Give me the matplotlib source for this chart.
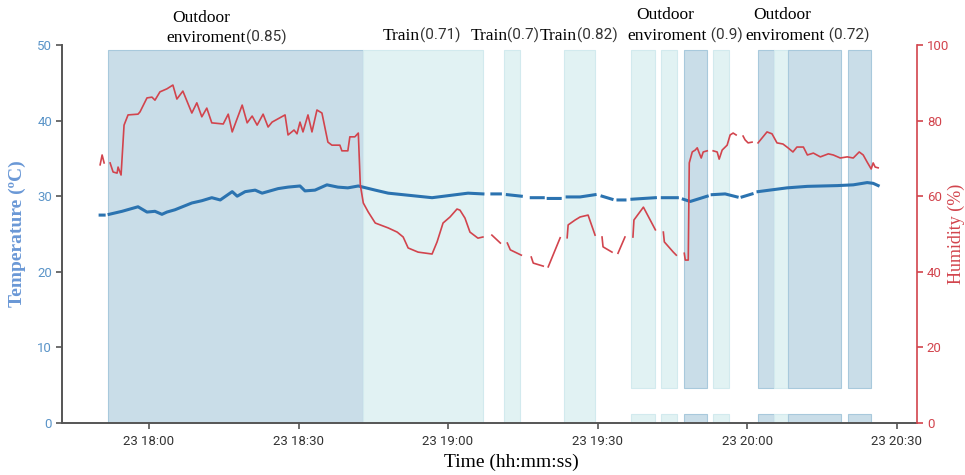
import numpy as np
import pandas as pd
import matplotlib
matplotlib.use("Agg")
import matplotlib.pyplot as plt
import matplotlib.dates as mdates
from matplotlib.transforms import blended_transform_factory

# minutes after 23 18:00, nan = missing reading
nan = np.nan
temp_min = [-9.8, -9.0, nan,
            -8.0, -5.4, -2.2, -0.4, 1.2, 2.6, 3.6, 5.2, 8.6, 10.6, 12.6, 14.3, 16.7, 17.7,
            19.3, 21.3, 22.7, 25.9, 27.9, 30.3, 31.3, 33.3, 35.7, 37.9, 39.9, 42.0, 45.4,
            48.0, 56.8, 64.0, 67.0, nan,
            68.8, 70.5, nan, 71.9, 74.7, nan, 76.7, 79.1, nan, 80.1, 82.5, nan,
            83.9, 86.5, 89.5, nan, 90.9, 92.9, nan, 94.1, 95.5, nan, 96.9, 101.6, nan,
            103.0, 106.0, nan, 107.2, 108.6, 112.0, nan, 113.0, 115.6, 118.0, nan,
            119.0, 121.0, nan, 122.2, 128.0, 132.1, 138.1, 141.3, 144.1, 145.3, 146.3]
temp_val = [27.5, 27.5, nan,
            27.6, 28.0, 28.6, 27.9, 28.0, 27.6, 27.9, 28.2, 29.1, 29.4, 29.8, 29.5, 30.6, 30.0,
            30.6, 30.8, 30.4, 31.0, 31.2, 31.35, 30.7, 30.8, 31.5, 31.2, 31.1, 31.35, 30.8,
            30.4, 29.8, 30.4, 30.3, nan,
            30.3, 30.3, nan, 30.2, 30.0, nan, 29.8, 29.8, nan, 29.7, 29.7, nan,
            29.9, 29.9, 30.2, nan, 30.0, 29.6, nan, 29.5, 29.5, nan, 29.6, 29.8, nan,
            29.8, 29.8, nan, 29.6, 29.3, 30.0, nan, 30.2, 30.3, 29.9, nan,
            29.9, 30.3, nan, 30.6, 31.1, 31.3, 31.4, 31.5, 31.8, 31.7, 31.4]

hum_min = [-9.8, -9.4, -9.0, nan,
           -7.8, -7.2, -6.4, -6.2, -5.6, -5.0, -4.2, -2.2, -1.8, -0.4, 0.6, 1.2, 2.2, 3.6,
           4.8, 5.6, 6.8, 8.6, 9.6, 10.6, 11.6, 12.6, 14.9, 15.9, 16.7, 18.7, 19.7, 20.7,
           21.7, 22.9, 23.9, 24.7, 27.3, 27.9, 29.1, 29.7, 30.3, 30.9, 31.9, 32.7, 33.7,
           34.7, 35.9, 36.7, 38.3, 38.7, 39.9, 40.3, 41.3, 42.0, 42.4, 43.0, 44.0, 45.4,
           48.0, 49.8, 51.0, 52.0, 54.0, 56.8, 57.8, 59.0, 60.4, 61.8, 62.4, 63.4, 64.4,
           66.0, 67.0, nan,
           68.8, 70.5, nan, 71.9, 72.5, 74.7, nan, 76.7, 77.1, 79.1, nan, 80.1, 82.5, nan,
           83.9, 84.1, 85.5, 86.5, 88.1, 89.5, nan, 90.9, 91.1, 92.9, nan, 94.1, 95.5, nan,
           97.1, 97.3, 99.2, 101.6, nan, 103.2, 103.4, 105.2, 105.8, nan,
           107.4, 107.6, 108.2, 108.4, 109.0, 109.6, 110.0, 110.4, 110.8, 111.2, 112.0, nan,
           113.2, 114.0, 114.4, 115.0, 116.0, 116.6, 117.2, 117.8, nan,
           119.2, 119.6, 120.2, 121.0, nan,
           122.2, 124.0, 125.0, 126.0, 127.2, 128.2, 129.2, 130.0, 131.3, 132.1, 133.3,
           134.7, 136.3, 137.3, 138.7, 140.1, 141.3, 142.5, 143.3, 144.1, 144.9, 145.3,
           145.7, 146.3]
hum_val = [68.3, 70.9, 68.8, nan,
           68.8, 66.4, 66.1, 67.7, 65.6, 78.8, 81.5, 81.7, 82.3, 86.0, 86.2, 85.4, 87.6, 88.4,
           89.4, 85.7, 87.8, 82.0, 84.7, 81.0, 83.3, 79.4, 79.1, 81.7, 77.0, 84.1, 79.4, 81.2,
           78.8, 81.7, 78.3, 79.6, 81.5, 76.2, 77.5, 76.5, 79.6, 77.0, 81.5, 77.0, 82.8,
           82.0, 74.3, 73.5, 73.5, 72.0, 72.0, 75.7, 75.7, 76.7, 63.0, 58.2, 55.8, 52.9,
           51.6, 50.5, 49.2, 46.3, 45.2, 44.7, 47.9, 52.9, 54.5, 56.6, 56.3, 54.2, 50.5,
           48.9, 49.2, nan,
           49.7, 47.6, nan, 47.6, 45.8, 44.4, nan, 43.9, 42.3, 41.5, nan, 41.3, 49.0, nan,
           49.0, 52.4, 53.7, 54.5, 55.0, 49.7, nan, 49.2, 46.6, 45.2, nan, 44.9, 49.2, nan,
           49.2, 53.7, 57.1, 51.1, nan, 50.5, 47.9, 45.2, 44.4, nan,
           44.9, 43.1, 43.1, 68.8, 71.7, 72.2, 72.8, 71.4, 70.1, 71.7, 72.0, nan,
           72.0, 71.7, 69.8, 72.2, 73.5, 76.2, 76.7, 76.2, nan,
           75.9, 74.9, 74.1, 74.3, nan,
           74.1, 77.0, 76.5, 74.1, 73.8, 72.8, 71.7, 73.0, 73.0, 70.9, 71.4,
           70.4, 71.2, 70.9, 70.1, 70.4, 70.1, 71.7, 70.9, 69.0, 67.2, 68.8,
           67.7, 67.5]

# activity periods (minutes after 18:00) and kind
span_start = [-8.2, 43.0, 71.3, 83.3, 96.7, 102.8, 107.4, 113.2, 122.2, 125.4, 128.2, 140.3]
span_end = [43.0, 67.0, 74.5, 89.5, 101.6, 106.0, 112.0, 116.4, 125.4, 128.2, 138.9, 144.9]
span_kind = ["out", "train", "train", "train", "train", "train", "out", "train",
             "out", "train", "out", "out"]

# labels: serif word part | sans value part, split at x (minutes)
label_x = [19.5, 54.4, 71.9, 85.9, 111.9, 135.6]
label_word = ["enviroment", "Train", "Train", "Train", "enviroment", "enviroment"]
label_val = ["(0.85)", "(0.71)", "(0.7)", "(0.82)", " (0.9)", " (0.72)"]
top_word_x = [10.4, None, None, None, 103.6, 127.0]

base = mdates.date2num(pd.Timestamp("2020-01-23 18:00"))
def to_time(mins):
    return base + np.array(mins, dtype=float) / 1440.0

serif = "Liberation Serif"
sans = ["Roboto", "DejaVu Sans"]
blue = "#2b73b0"
red = "#d2444d"
tblue = "#5a94c8"

fig = plt.figure(figsize=(9.65, 4.75), dpi=100)
ax = fig.add_axes([0.0642, 0.1095, 0.8861, 0.7958])
ax2 = ax.twinx()

colors = {"out": "#c9dde8", "train": "#e1f2f3"}
edges = {"out": "#a8c9dc", "train": "#d2eaee"}
for s, e, k in zip(span_start, span_end, span_kind):
    t0, t1 = to_time([s, e])
    if s < 95:
        ax.axvspan(t0, t1, ymin=0, ymax=0.987, fc=colors[k], ec=edges[k], lw=0.8, zorder=0)
    else:
        # the lower part of these periods is cut in the original
        ax.axvspan(t0, t1, ymin=0, ymax=0.023, fc=colors[k], ec=edges[k], lw=0.8, zorder=0)
        ax.axvspan(t0, t1, ymin=0.093, ymax=0.987, fc=colors[k], ec=edges[k], lw=0.8, zorder=0)

ax.plot(to_time(temp_min), np.array(temp_val, dtype=float), color=blue, lw=2.2, zorder=3)
ax2.plot(to_time(hum_min), np.array(hum_val, dtype=float), color=red, lw=1.2, zorder=3)

x0, x1 = to_time([-17.46, 154.1])
ax.set_xlim(x0, x1)
ax.set_ylim(0, 50)
ax2.set_ylim(0, 100)
ax.set_yticks([0, 10, 20, 30, 40, 50])
ax2.set_yticks([0, 20, 40, 60, 80, 100])
ax.xaxis.set_major_locator(mdates.MinuteLocator(byminute=[0, 30]))
ax.xaxis.set_major_formatter(mdates.DateFormatter("%d %H:%M"))

for a in (ax, ax2):
    a.spines["top"].set_visible(False)
ax.spines["right"].set_visible(False)
ax.spines["left"].set_color("#555555")
ax.spines["bottom"].set_color("#555555")
ax.spines["left"].set_linewidth(1.4)
ax.spines["bottom"].set_linewidth(1.4)
ax2.spines["left"].set_visible(False)
ax2.spines["bottom"].set_visible(False)
ax2.spines["right"].set_color(red)
ax2.spines["right"].set_linewidth(1.2)

ax.tick_params(axis="y", colors="#555555", labelcolor=tblue, length=4, width=1.2, pad=3)
ax.tick_params(axis="x", colors="#555555", labelcolor="#333333", length=4, width=1.2, pad=5)
ax2.tick_params(axis="y", colors=red, labelcolor=red, length=4, width=1.2, pad=3)
for lab in ax.get_xticklabels() + ax.get_yticklabels() + ax2.get_yticklabels():
    lab.set_family(sans)
    lab.set_fontsize(9.5)

ax.set_ylabel("Temperature (ºC)", family=serif, fontsize=14, color="#6a98d6",
              fontweight="bold", labelpad=8)
ax2.set_ylabel("Humidity (%)", family=serif, fontsize=13, color=red, labelpad=-1)
ax.set_xlabel("Time (hh:mm:ss)", family=serif, fontsize=14, color="black", x=0.526,
              labelpad=4)

trans = blended_transform_factory(ax.transData, ax.transAxes)
for i in range(len(label_x)):
    xm = to_time([label_x[i]])[0]
    y = 1.019 if i == 0 else 1.025
    ax.text(xm, y, label_word[i], transform=trans, ha="right", va="center",
            family=serif, fontsize=12.5, clip_on=False)
    ax.text(xm, y, label_val[i], transform=trans, ha="left", va="center",
            family=sans, fontsize=11, color="#333333", clip_on=False)
    if top_word_x[i] is not None:
        xo = to_time([top_word_x[i]])[0]
        yo = 1.071 if i == 0 else 1.079
        ax.text(xo, yo, "Outdoor", transform=trans, ha="center", va="center",
                family=serif, fontsize=12.5, clip_on=False)

fig.savefig("out.png", dpi=100)
